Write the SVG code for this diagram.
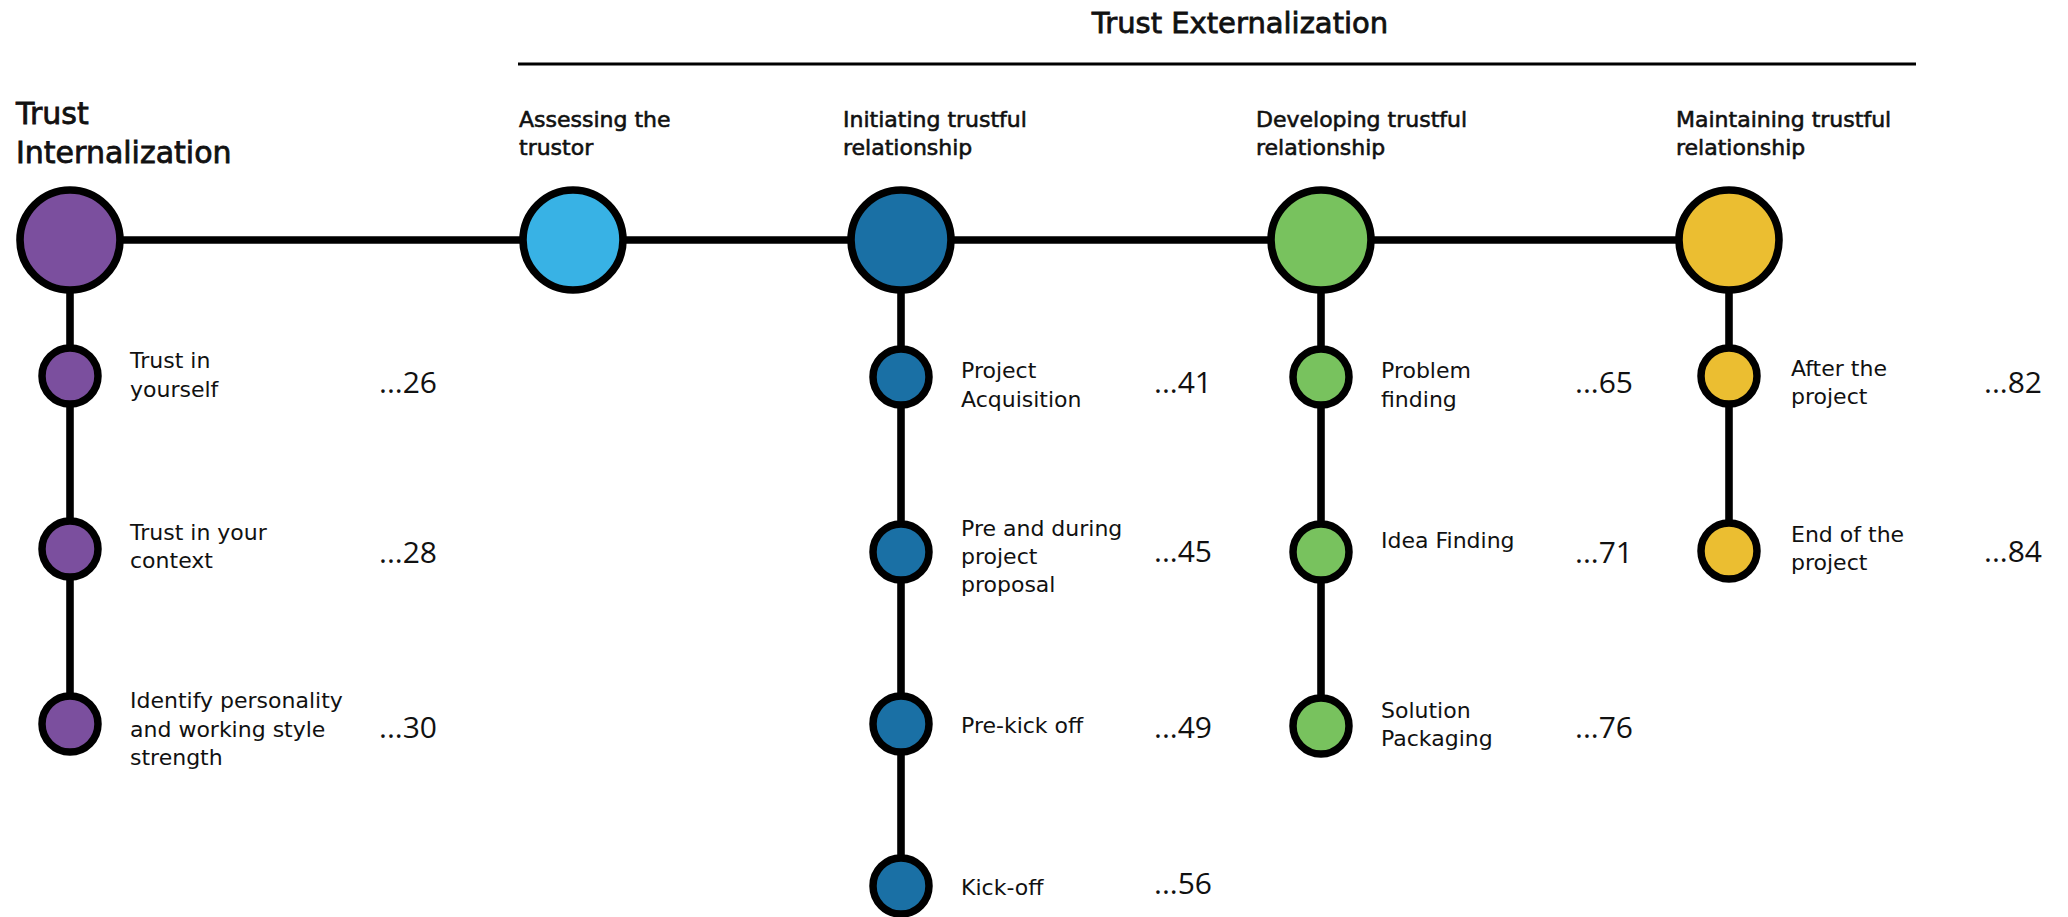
<svg xmlns="http://www.w3.org/2000/svg" width="2068" height="917" viewBox="0 0 2068 917">
  <style>
    text { font-family: "DejaVu Sans", "Liberation Sans", sans-serif; fill: #111; }
    .title { font-size: 29px; stroke: #111; stroke-width: 0.8px; }
    .title-l { font-size: 30px; stroke: #111; stroke-width: 0.8px; }
    .head { font-size: 22px; stroke: #111; stroke-width: 0.6px; }
    .item { font-size: 22px; }
    .num { font-family: "Open Sans", "Liberation Sans", sans-serif; font-size: 30px; text-anchor: end; }
    .line { stroke: #000; stroke-width: 7.6; fill: none; }
    .rule { stroke: #000; stroke-width: 3; fill: none; }
    .big { stroke: #000; stroke-width: 7.6; }
    .small { stroke: #000; stroke-width: 7.5; }
    .purple { fill: #7B4F9E; }
    .sky { fill: #38B2E5; }
    .navy { fill: #1A70A5; }
    .green { fill: #78C25E; }
    .yellow { fill: #EBBE31; }
  </style>

  <!-- section heading above the external phases -->
  <g id="externalization-heading">
    <text class="title" x="1240" y="33" text-anchor="middle">Trust Externalization</text>
    <line class="rule" x1="518" y1="64" x2="1916" y2="64"/>
  </g>

  <!-- timeline connectors -->
  <g id="connectors">
    <line class="line" x1="70" y1="240" x2="1729" y2="240"/>
    <line class="line" x1="70" y1="240" x2="70" y2="724"/>
    <line class="line" x1="901" y1="240" x2="901" y2="886"/>
    <line class="line" x1="1321" y1="240" x2="1321" y2="724"/>
    <line class="line" x1="1729" y1="240" x2="1729" y2="551"/>
  </g>

  <!-- Trust Internalization -->
  <g id="internalization">
    <text class="title-l"><tspan x="16" y="124">Trust</tspan><tspan x="16" y="163">Internalization</tspan></text>
    <circle class="big purple" cx="70" cy="240" r="50"/>
  </g>
  <g id="trust-yourself">
    <circle class="small purple" cx="70" cy="376" r="28"/>
    <text class="item"><tspan x="130" y="368">Trust in</tspan><tspan x="130" y="397">yourself</tspan></text>
    <text class="num" x="437" y="393">...26</text>
  </g>
  <g id="trust-context">
    <circle class="small purple" cx="70" cy="549" r="28"/>
    <text class="item"><tspan x="130" y="540">Trust in your</tspan><tspan x="130" y="568">context</tspan></text>
    <text class="num" x="437" y="563">...28</text>
  </g>
  <g id="personality">
    <circle class="small purple" cx="70" cy="724" r="28"/>
    <text class="item"><tspan x="130" y="708">Identify personality</tspan><tspan x="130" y="737">and working style</tspan><tspan x="130" y="765">strength</tspan></text>
    <text class="num" x="437" y="738">...30</text>
  </g>

  <!-- Assessing the trustor -->
  <g id="assessing">
    <text class="head"><tspan x="519" y="127">Assessing the</tspan><tspan x="519" y="155">trustor</tspan></text>
    <circle class="big sky" cx="573" cy="240" r="50"/>
  </g>

  <!-- Initiating trustful relationship -->
  <g id="initiating">
    <text class="head"><tspan x="843" y="127">Initiating trustful</tspan><tspan x="843" y="155">relationship</tspan></text>
    <circle class="big navy" cx="901" cy="240" r="50"/>
  </g>
  <g id="acquisition">
    <circle class="small navy" cx="901" cy="377" r="28"/>
    <text class="item"><tspan x="961" y="378">Project</tspan><tspan x="961" y="407">Acquisition</tspan></text>
    <text class="num" x="1212" y="393">...41</text>
  </g>
  <g id="proposal">
    <circle class="small navy" cx="901" cy="552" r="28"/>
    <text class="item"><tspan x="961" y="536">Pre and during</tspan><tspan x="961" y="564">project</tspan><tspan x="961" y="592">proposal</tspan></text>
    <text class="num" x="1212" y="562">...45</text>
  </g>
  <g id="pre-kick-off">
    <circle class="small navy" cx="901" cy="724" r="28"/>
    <text class="item" x="961" y="733">Pre-kick off</text>
    <text class="num" x="1212" y="738">...49</text>
  </g>
  <g id="kick-off">
    <circle class="small navy" cx="901" cy="886" r="28"/>
    <text class="item" x="961" y="895">Kick-off</text>
    <text class="num" x="1212" y="894">...56</text>
  </g>

  <!-- Developing trustful relationship -->
  <g id="developing">
    <text class="head"><tspan x="1256" y="127">Developing trustful</tspan><tspan x="1256" y="155">relationship</tspan></text>
    <circle class="big green" cx="1321" cy="240" r="50"/>
  </g>
  <g id="problem-finding">
    <circle class="small green" cx="1321" cy="377" r="28"/>
    <text class="item"><tspan x="1381" y="378">Problem</tspan><tspan x="1381" y="407">finding</tspan></text>
    <text class="num" x="1633" y="393">...65</text>
  </g>
  <g id="idea-finding">
    <circle class="small green" cx="1321" cy="552" r="28"/>
    <text class="item" x="1381" y="548">Idea Finding</text>
    <text class="num" x="1633" y="563">...71</text>
  </g>
  <g id="solution-packaging">
    <circle class="small green" cx="1321" cy="726" r="28"/>
    <text class="item"><tspan x="1381" y="718">Solution</tspan><tspan x="1381" y="746">Packaging</tspan></text>
    <text class="num" x="1633" y="738">...76</text>
  </g>

  <!-- Maintaining trustful relationship -->
  <g id="maintaining">
    <text class="head"><tspan x="1676" y="127">Maintaining trustful</tspan><tspan x="1676" y="155">relationship</tspan></text>
    <circle class="big yellow" cx="1729" cy="240" r="50"/>
  </g>
  <g id="after-project">
    <circle class="small yellow" cx="1729" cy="376" r="28"/>
    <text class="item"><tspan x="1791" y="376">After the</tspan><tspan x="1791" y="404">project</tspan></text>
    <text class="num" x="2042" y="393">...82</text>
  </g>
  <g id="end-project">
    <circle class="small yellow" cx="1729" cy="551" r="28"/>
    <text class="item"><tspan x="1791" y="542">End of the</tspan><tspan x="1791" y="570">project</tspan></text>
    <text class="num" x="2042" y="562">...84</text>
  </g>
</svg>
